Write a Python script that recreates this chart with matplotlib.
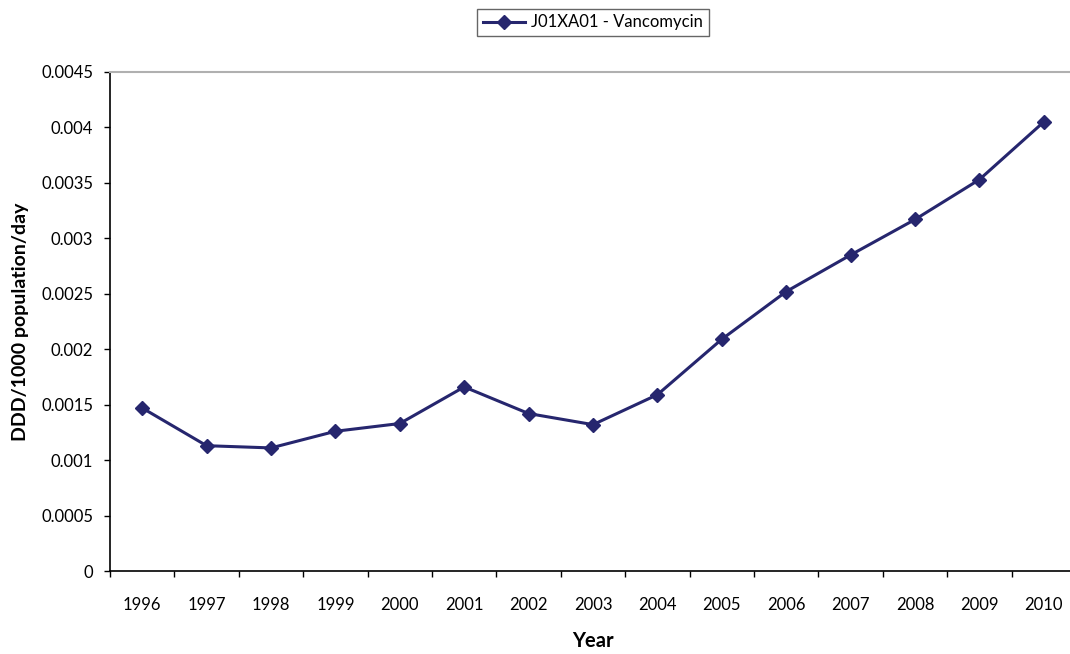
import numpy as np
import matplotlib.pyplot as plt
from matplotlib.ticker import FuncFormatter, MultipleLocator, FixedLocator

# Vancomycin use, DDD per 1000 population per day
years = ['1996', '1997', '1998', '1999', '2000', '2001', '2002', '2003',
         '2004', '2005', '2006', '2007', '2008', '2009', '2010']
ddd = [0.00147, 0.00113, 0.00111, 0.00126, 0.00133, 0.00166, 0.00142, 0.00132,
       0.00159, 0.00209, 0.00252, 0.00285, 0.00317, 0.00353, 0.00405]
series_label = 'J01XA01 - Vancomycin'

plt.rcParams['font.family'] = ['Lato', 'DejaVu Sans']
NAVY = '#26266E'

fig = plt.figure(figsize=(10.7, 6.54), dpi=100)
ax = fig.add_axes([110 / 1070, 1 - 571 / 654, 966 / 1070, 499 / 654])

x = np.arange(len(years))
ax.plot(x, ddd, color=NAVY, lw=2.2, marker='D', ms=7.5, mfc=NAVY, mec=NAVY,
        label=series_label)

ax.set_xlim(-0.5, len(years) - 0.5)
ax.set_ylim(0, 0.0045)
ax.yaxis.set_major_locator(MultipleLocator(0.0005))
ax.yaxis.set_major_formatter(FuncFormatter(lambda v, p: '%g' % round(v, 5)))

ax.set_xticks(x)
ax.set_xticklabels(years)
ax.xaxis.set_minor_locator(FixedLocator(np.arange(-0.5, len(years), 1.0)))
ax.tick_params(axis='x', which='major', length=0, pad=19, labelsize=12)
ax.tick_params(axis='x', which='minor', length=4, width=1, direction='out')
ax.tick_params(axis='y', length=4, width=1, pad=8, labelsize=12)

ax.spines['right'].set_visible(False)
ax.spines['top'].set_color('#b0b0b0')
ax.spines['top'].set_linewidth(1.5)
ax.spines['left'].set_linewidth(1.2)
ax.spines['bottom'].set_linewidth(1.2)

ax.set_xlabel('Year', fontsize=14.5, fontweight='bold', labelpad=13)
ax.set_ylabel('DDD/1000 population/day', fontsize=14, fontweight='bold', labelpad=9)

leg = ax.legend(loc='lower center', bbox_to_anchor=(0.5, 1.055), fontsize=12,
                frameon=True, fancybox=False, edgecolor='#404040',
                handlelength=2.5, borderpad=0.35, handletextpad=0.4)
leg.get_frame().set_linewidth(1.0)

fig.savefig('out.png', dpi=100)
